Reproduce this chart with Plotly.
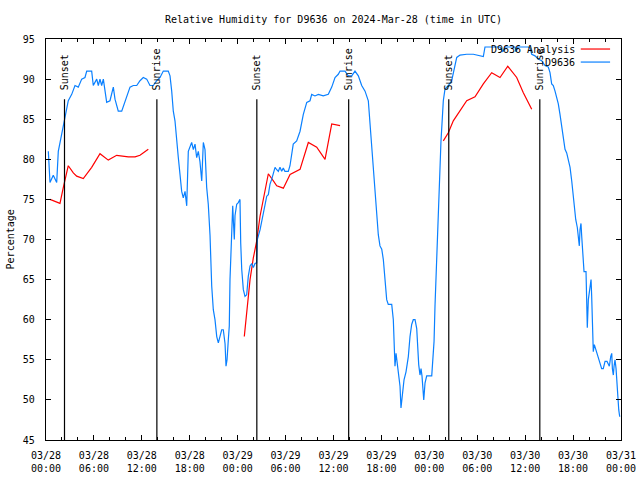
import pandas as pd
import plotly.graph_objects as go

BASE = pd.Timestamp("2024-03-28 00:00")

# D9636 observations: hours since 2024-03-28 00:00 UTC, relative humidity (%)
obs_hours = [0.29, 0.50, 0.91, 1.34, 1.54, 1.97, 2.38, 2.79, 3.22, 3.63, 4.04, 4.47, 4.88, 5.10, 5.72,
             5.92, 6.35, 6.55, 6.76, 6.97, 7.18, 7.39, 7.60, 8.01, 8.43, 8.64, 9.05, 9.48, 9.89, 10.31,
             10.52, 10.93, 11.36, 11.77, 12.18, 12.61, 13.02, 13.44, 13.86, 14.28, 14.69, 15.31, 15.53,
             15.74, 15.94, 16.15, 16.37, 16.57, 16.78, 16.99, 17.19, 17.41, 17.62, 17.82, 18.24, 18.45,
             18.66, 18.87, 19.07, 19.28, 19.50, 19.70, 19.91, 20.12, 20.32, 20.54, 20.75, 20.95, 21.16,
             21.38, 21.58, 21.79, 22.00, 22.20, 22.42, 22.54, 22.67, 22.83, 22.95, 23.04, 23.25, 23.38,
             23.48, 23.58, 23.67, 23.88, 24.08, 24.29, 24.38, 24.51, 24.71, 24.92, 25.13, 25.33, 25.55,
             25.76, 25.96, 26.17, 26.38, 26.46, 26.80, 27.21, 27.64, 27.84, 28.05, 28.26, 28.68, 28.89,
             29.09, 29.30, 29.51, 29.71, 29.92, 30.34, 30.55, 30.96, 31.39, 31.81, 32.22, 32.65, 33.06,
             33.27, 33.68, 34.10, 34.72, 35.35, 35.78, 36.19, 36.60, 36.82, 37.44, 37.85, 38.28, 38.69,
             39.11, 39.53, 39.95, 40.36, 40.57, 40.78, 40.98, 41.20, 41.41, 41.61, 41.82, 42.04, 42.24,
             42.45, 42.66, 42.86, 43.29, 43.49, 43.61, 43.70, 43.83, 43.92, 44.11, 44.33, 44.45, 44.67,
             44.83, 45.08, 45.37, 45.58, 45.79, 45.99, 46.21, 46.42, 46.55, 46.67, 46.83, 46.96, 47.08,
             47.17, 47.30, 47.46, 47.67, 48.30, 48.42, 48.59, 48.71, 48.84, 48.92, 49.12, 49.34, 49.46,
             49.63, 49.75, 49.96, 50.38, 50.80, 51.21, 51.43, 51.84, 52.68, 53.51, 54.76, 54.97, 56.85,
             57.22, 57.48, 58.73, 58.85, 59.10, 60.39, 60.60, 60.82, 61.23, 61.64, 62.07, 62.48, 62.90,
             63.11, 63.32, 63.52, 63.74, 63.95, 64.15, 64.36, 64.58, 64.78, 64.99, 65.20, 65.41, 65.62,
             65.83, 66.03, 66.15, 66.33, 66.53, 66.65, 66.78, 66.87, 66.99, 67.08, 67.21, 67.37, 67.62,
             67.71, 67.78, 67.91, 68.12, 68.25, 68.33, 68.46, 68.53, 68.66, 68.96, 69.16, 69.37, 69.58,
             69.78, 70.00, 70.25, 70.54, 70.71, 70.84, 70.92, 71.04, 71.13, 71.25, 71.38, 71.50, 71.59,
             71.72, 71.84]
obs_rh = [81.0, 77.1, 78.0, 77.1, 81.0, 83.1, 85.2, 87.3, 88.1, 89.2, 89.0, 90.0, 90.2, 91.0, 91.0,
          89.2, 90.0, 89.2, 90.0, 89.2, 90.0, 88.5, 87.1, 87.3, 89.0, 87.5, 86.0, 86.0, 87.1, 88.3,
          89.0, 89.2, 89.2, 89.8, 90.2, 90.0, 89.2, 89.2, 89.8, 90.2, 91.0, 91.0, 90.4,
          88.5, 86.0, 84.8, 81.9, 80.2, 78.1, 76.0, 75.2, 76.0, 74.2, 81.0, 82.1, 81.2,
          81.9, 80.2, 81.0, 79.7, 77.3, 82.1, 81.2, 76.5, 74.4, 70.5, 64.2, 61.25, 60.0,
          57.9, 57.1, 57.9, 58.75, 58.75, 57.0, 54.2, 55.0, 57.5, 59.2, 65.0, 72.5, 74.2,
          72.0, 70.0, 73.0, 74.4, 74.6, 75.0, 69.6, 66.25, 63.75, 62.9, 63.1, 65.4, 66.7,
          67.0, 66.5, 67.0, 67.1, 70.0, 71.2, 73.1, 75.4, 75.6, 76.9, 77.5, 79.0, 78.7,
          78.5, 79.0, 78.5, 78.9, 78.5, 78.5, 79.2, 81.9, 82.3, 83.5, 85.6, 87.1, 87.3,
          88.1, 87.9, 88.1, 87.9, 88.1, 89.0, 90.2, 90.6, 91.0, 91.0, 90.4, 90.4, 91.0,
          90.4, 89.2, 88.5, 87.3, 84.4, 82.3, 79.4, 76.9, 74.0, 70.6, 69.2, 68.8, 67.5,
          64.8, 62.5, 61.9, 61.9, 60.0, 57.7, 54.2, 55.8, 55.0, 53.3, 51.7, 49.0, 51.0,
          52.5, 53.5, 55.4, 57.9, 59.4, 60.0, 60.0, 58.9, 56.25, 54.4, 53.1, 53.9, 53.0,
          51.0, 50.0, 52.1, 53.0, 53.0, 54.6, 57.3, 61.7, 65.4, 68.5, 74.0, 79.0, 82.3,
          85.2, 87.3, 88.75, 89.2, 89.8, 91.9, 92.7, 93.0, 93.1, 93.1, 92.8, 94.0, 94.0,
          93.4, 94.0, 94.0, 93.4, 94.0, 94.0, 93.9, 93.1, 92.9, 92.5, 92.3, 91.7, 91.5,
          90.8, 89.4, 89.2, 88.5, 87.7, 86.9, 85.6, 84.0, 83.1, 81.25, 80.8, 79.8, 79.0,
          77.3, 75.2, 73.5, 72.5, 71.5, 69.8, 69.2, 71.25, 72.0, 70.4, 67.5, 66.0, 66.0,
          60.8, 59.0, 62.5, 64.2, 65.0, 62.9, 58.3, 56.0, 56.9, 56.0, 55.2, 54.6, 53.9,
          53.9, 54.8, 54.8, 54.2, 55.4, 55.8, 53.9, 53.1, 54.2, 55.0, 53.9, 52.1, 50.2,
          48.75, 47.9]

# D9636 Analysis (None = gap between analysis runs)
ana_hours = [0.50, 1.75, 2.17, 2.79, 3.42, 3.84, 4.67, 5.72, 6.76, 7.80, 8.85, 10.31, 11.15, 11.77, 12.81,
             None,
             24.83, 25.13, 25.55, 25.96, 26.38, 26.80, 27.21, 27.84, 28.47, 28.89, 29.72, 30.56, 31.81,
             32.85, 33.90, 34.94, 35.78, 36.30, 36.82,
             None,
             49.75, 50.38, 51.00, 51.84, 52.68, 53.72, 54.76, 55.81, 56.85, 57.82, 58.94, 59.77, 60.61, 60.82]
ana_rh = [75.0, 74.5, 76.5, 79.2, 78.3, 77.9, 77.6, 79.0, 80.7, 79.9, 80.5, 80.3, 80.3, 80.5, 81.25,
          None,
          57.9, 60.9, 65.0, 67.7, 69.8, 72.9, 75.0, 78.2, 77.3, 76.7, 76.4, 78.1, 78.75,
          82.1, 81.5, 80.0, 84.4, 84.3, 84.2,
          None,
          82.3, 83.3, 84.8, 86.0, 87.3, 87.8, 89.4, 90.8, 90.2, 91.6, 90.2, 88.3, 86.7, 86.25]

# Sun events (UTC)
sun_labels = ["Sunset", "Sunrise", "Sunset", "Sunrise", "Sunset", "Sunrise"]
sun_times = ["2024-03-28 02:19", "2024-03-28 13:53", "2024-03-29 02:24",
             "2024-03-29 13:54", "2024-03-30 02:26", "2024-03-30 13:50"]

title = "Relative Humidity for D9636 on 2024-Mar-28 (time in UTC)"
legend_names = ["D9636 Analysis", "D9636"]

RED = "#ff0000"
BLUE = "#0a80ff"
FONT = "DejaVu Sans Mono"


def to_time(hours):
    return [None if h is None else BASE + pd.Timedelta(hours=h) for h in hours]


fig = go.Figure()
fig.add_trace(go.Scatter(x=to_time(ana_hours), y=ana_rh, mode="lines", name=legend_names[0],
                         line=dict(color=RED, width=1.2), connectgaps=False))
fig.add_trace(go.Scatter(x=to_time(obs_hours), y=obs_rh, mode="lines", name=legend_names[1],
                         line=dict(color=BLUE, width=1.2)))

for lab, t in zip(sun_labels, sun_times):
    fig.add_shape(type="line", xref="x", yref="y", x0=t, x1=t, y0=45, y1=87.5,
                  line=dict(color="black", width=1.2))
    fig.add_annotation(x=t, y=88.3, xref="x", yref="y", text=lab, textangle=-90,
                       showarrow=False, xanchor="center", yanchor="bottom",
                       font=dict(family=FONT, size=10, color="black"))

# gnuplot-style legend (text left of sample line)
for i, (name, col) in enumerate(zip(legend_names, [RED, BLUE])):
    yp = [0.975, 0.9425][i]
    fig.add_annotation(x=0.9235, y=yp, xref="paper", yref="paper", text=name, showarrow=False,
                       xanchor="right", yanchor="middle", font=dict(family=FONT, size=10, color="black"))
    fig.add_shape(type="line", xref="paper", yref="paper", x0=0.930, x1=0.981, y0=yp, y1=yp,
                  line=dict(color=col, width=1.2))

fig.add_annotation(x=-0.061, y=0.5, xref="paper", yref="paper", text="Percentage", textangle=-90,
                   showarrow=False, xanchor="center", yanchor="middle",
                   font=dict(family=FONT, size=10, color="black"))

fig.update_layout(
    width=640, height=480,
    margin=dict(l=46, r=19, t=39, b=40, pad=0, autoexpand=False),
    paper_bgcolor="white", plot_bgcolor="white",
    showlegend=False,
    title=dict(text=title, x=0.5, xref="paper", xanchor="center", y=1 - 19 / 480, yref="container",
               yanchor="middle", font=dict(family=FONT, size=10, color="black")),
    font=dict(family=FONT, size=10, color="black"),
)
fig.update_xaxes(
    type="date", range=["2024-03-28 00:00", "2024-03-31 00:00"],
    dtick=6 * 3600 * 1000, tick0="2024-03-28 00:00", tickformat="%m/%d<br>%H:%M",
    ticks="inside", ticklen=5, tickcolor="black", showline=True, linecolor="black", linewidth=1.2,
    mirror="allticks", showgrid=False, zeroline=False, ticklabelstandoff=6, automargin=False,
    minor=dict(dtick=2 * 3600 * 1000, tick0="2024-03-28 00:00", ticks="inside", ticklen=3,
               tickcolor="black", showgrid=False),
    tickfont=dict(family=FONT, size=10, color="black"),
)
fig.update_yaxes(
    range=[45, 95], dtick=5, tick0=45, ticks="inside", ticklen=5, tickcolor="black",
    showline=True, linecolor="black", linewidth=1.2, mirror="allticks", showgrid=False,
    zeroline=False, ticklabelstandoff=8, automargin=False,
    tickfont=dict(family=FONT, size=10, color="black"),
)

fig.write_html("out.html", config={"displayModeBar": False},
               post_script="document.body.style.margin='0px';")
